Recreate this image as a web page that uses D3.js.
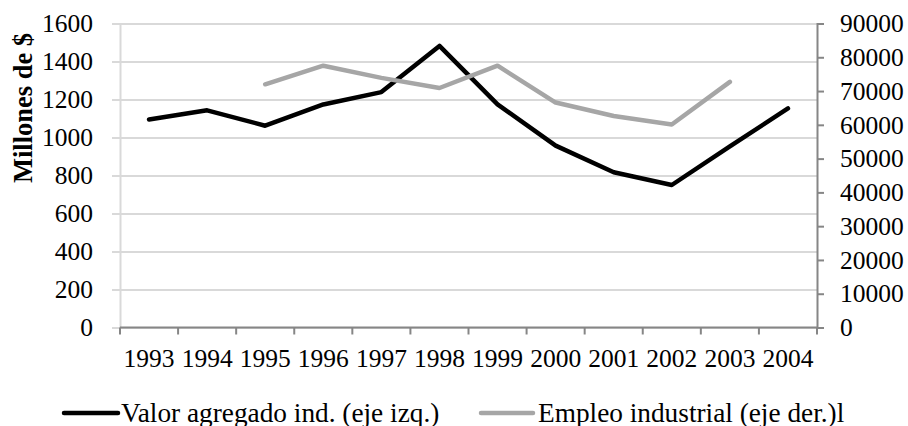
<!DOCTYPE html>
<html>
<head>
<meta charset="utf-8">
<script src="https://cdn.jsdelivr.net/npm/d3@7.9.0/dist/d3.min.js"></script>
<style>
  body { margin: 0; background: #fff; }
  svg { font-family: "Liberation Serif", "Times New Roman", serif; }
</style>
</head>
<body>
<svg id="chart" width="908" height="426"></svg>
<script>
// data
const years = ['1993', '1994', '1995', '1996', '1997', '1998', '1999', '2000', '2001', '2002', '2003', '2004'];
const valorAgregado = [1095, 1143, 1062, 1174, 1239, 1482, 1174, 957, 817, 750, 953, 1153];
const empleo = [null, null, 72000, 77500, 73900, 70900, 77500, 66600, 62600, 60100, 72700, null];
const leftTicks = [0, 200, 400, 600, 800, 1000, 1200, 1400, 1600];
const rightTicks = [0, 10000, 20000, 30000, 40000, 50000, 60000, 70000, 80000, 90000];
const seriesNames = ['Valor agregado ind. (eje izq.)', 'Empleo industrial (eje der.)l'];

const svg = d3.select('#chart');
const plot = { left: 120, right: 817, top: 23.5, bottom: 327.5 };
const FONT = 'Liberation Serif';

const x = d3.scaleBand().domain(years).range([plot.left, plot.right]);
const yL = d3.scaleLinear().domain([0, 1600]).range([plot.bottom, plot.top]);
const yR = d3.scaleLinear().domain([0, 90000]).range([plot.bottom, plot.top]);

// gridlines + left axis (light grey, ticks stick out left)
const gl = svg.append('g').attr('transform', `translate(${plot.left},0)`)
  .call(d3.axisLeft(yL).tickValues(leftTicks).tickSize(8).tickPadding(19).tickFormat(d3.format('d')));
gl.select('.domain').attr('stroke', '#d9d9d9').attr('stroke-width', 2);
gl.selectAll('.tick line').attr('stroke', '#d9d9d9').attr('stroke-width', 2);
gl.selectAll('.tick').append('line')
  .attr('x1', 0).attr('x2', plot.right - plot.left)
  .attr('stroke', '#d9d9d9').attr('stroke-width', 2);
gl.selectAll('text').attr('font-size', 25.5).attr('fill', '#000').attr('font-family', FONT);

// right axis
const gr = svg.append('g').attr('transform', `translate(${plot.right},0)`)
  .call(d3.axisRight(yR).tickValues(rightTicks).tickSize(7).tickPadding(16).tickFormat(d3.format('d')));
gr.select('.domain').attr('stroke', '#868686').attr('stroke-width', 2);
gr.selectAll('.tick line').attr('stroke', '#868686').attr('stroke-width', 2);
gr.selectAll('text').attr('font-size', 25.5).attr('fill', '#000').attr('font-family', FONT);

// bottom axis, ticks on band edges
const gb = svg.append('g').attr('transform', `translate(0,${plot.bottom})`);
gb.append('line').attr('x1', plot.left).attr('x2', plot.right + 1)
  .attr('stroke', '#868686').attr('stroke-width', 2);
const edges = years.map(d => x(d)).concat([x.range()[1]]);
gb.selectAll('.edge').data(edges).join('line')
  .attr('x1', d => d).attr('x2', d => d).attr('y1', 0).attr('y2', 7)
  .attr('stroke', '#868686').attr('stroke-width', 2);
gb.selectAll('.lbl').data(years).join('text')
  .attr('x', d => x(d) + x.bandwidth() / 2)
  .attr('y', 39.5)
  .attr('text-anchor', 'middle')
  .attr('font-size', 25.5)
  .text(d => d);

// y title
svg.append('text')
  .attr('transform', 'translate(32,108) rotate(-90)')
  .attr('text-anchor', 'middle')
  .attr('font-size', 26.5)
  .attr('font-weight', 'bold')
  .text('Millones de $');

const cx = d => x(d) + x.bandwidth() / 2;

const lineL = d3.line().x((d, i) => cx(years[i])).y(d => yL(d));
svg.append('path').datum(valorAgregado)
  .attr('d', lineL)
  .attr('fill', 'none').attr('stroke', '#000').attr('stroke-width', 4.5)
  .attr('stroke-linejoin', 'round').attr('stroke-linecap', 'round');

const lineR = d3.line().defined(d => d != null).x((d, i) => cx(years[i])).y(d => yR(d));
svg.append('path').datum(empleo)
  .attr('d', lineR)
  .attr('fill', 'none').attr('stroke', '#a6a6a6').attr('stroke-width', 4.5)
  .attr('stroke-linejoin', 'round').attr('stroke-linecap', 'round');

// legend
const legend = [
  { name: seriesNames[0], color: '#000', x1: 64, x2: 118, tx: 121 },
  { name: seriesNames[1], color: '#a6a6a6', x1: 481, x2: 533, tx: 538 }
];
const lg = svg.append('g');
legend.forEach(l => {
  lg.append('line').attr('x1', l.x1).attr('x2', l.x2).attr('y1', 413).attr('y2', 413)
    .attr('stroke', l.color).attr('stroke-width', 4.5).attr('stroke-linecap', 'round');
  lg.append('text').attr('x', l.tx).attr('y', 421.5).attr('font-size', 27.3).text(l.name);
});
</script>
</body>
</html>
